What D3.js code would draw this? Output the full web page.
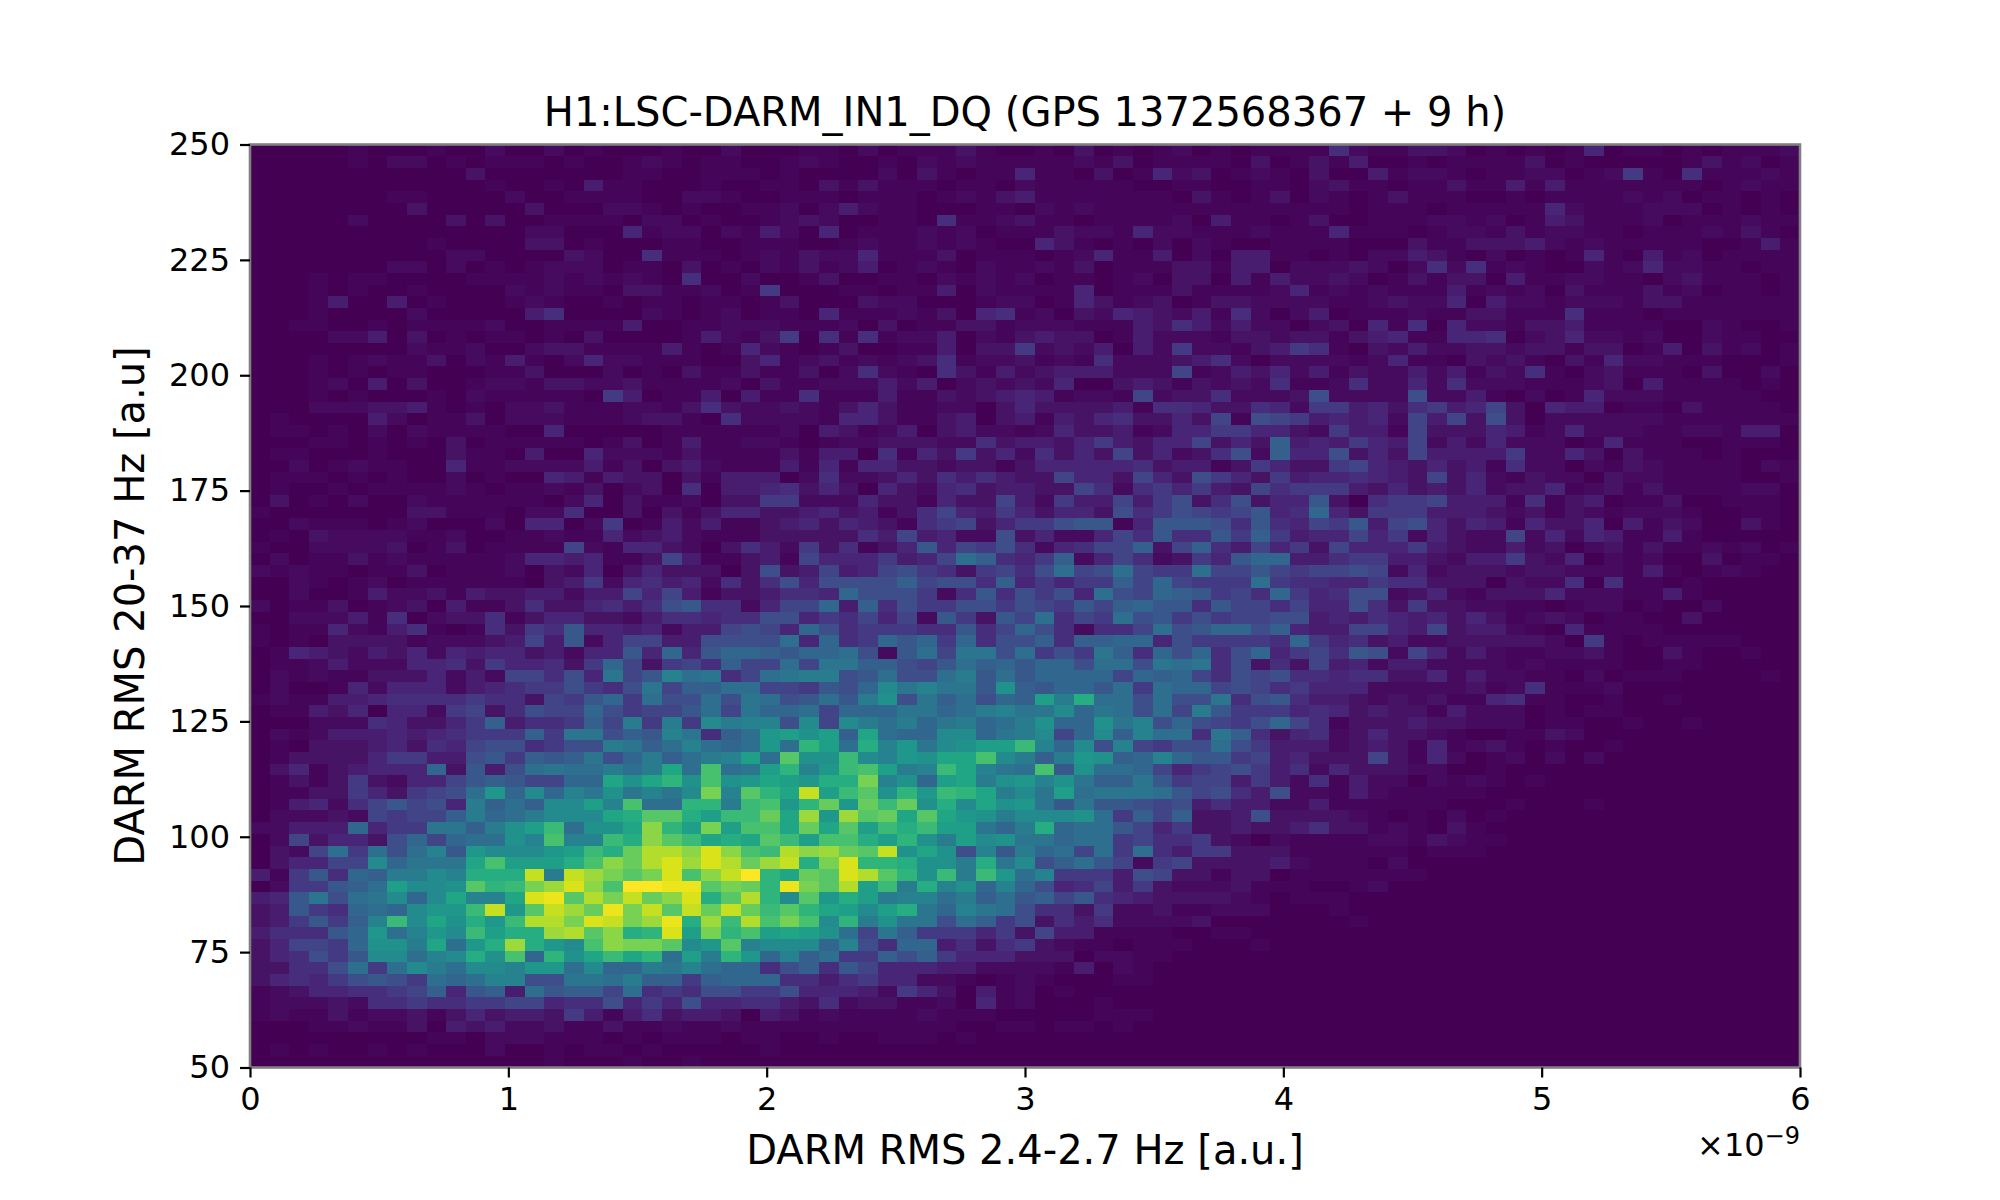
<!DOCTYPE html>
<html>
<head>
<meta charset="utf-8">
<script src="https://cdn.jsdelivr.net/npm/d3@7"></script>
<style>html,body{margin:0;background:#fff}svg{display:block}text{font-family:"DejaVu Sans";fill:#000}</style>
</head>
<body>
<svg id="c" width="2000" height="1200"></svg>
<script>
const titleText = "H1:LSC-DARM_IN1_DQ (GPS 1372568367 + 9 h)";
const xLabel = "DARM RMS 2.4-2.7 Hz [a.u.]";
const yLabel = "DARM RMS 20-37 Hz [a.u]";
const xTicks = [0,1,2,3,4,5,6];
const yTicks = [50,75,100,125,150,175,200,225,250];
const binCount = 79;
// counts per cell in base 36, top row first
const countRows = [
"0000010001 0020020100 0100200011 02 01113100103010120 1011116211 3320101015 0110101112",
"0000010220 1011101001 2101100121 00 10212111112130111 1030131400 1011113010 0000131201",
"0000000000 0300000001 1001110100 00 20310115110301523 0121030041 2210112201 2710611121",
"0000000000 0010010411 0001001103 13 11101102111110011 0011023110 1131141411 1111101211",
"0000000110 0002001111 0022100111 01 11012134111111103 1013021013 1110010111 1212011010",
"0000000030 0000300022 1010011202 42 11000110212111111 1111111011 1011111521 1122201010",
"0000020000 3030011110 2201001232 00 11061123110111120 4110130011 1221201431 1120111211",
"0000000000 0000220005 1220214205 01 11212011132215221 1121115111 0122131221 1011121310",
"0000000001 0000330100 0110011100 12 11212100531010202 1001111000 3113334212 1111100141",
"0000000000 2200003200 6111012132 25 11130111012511402 0441101022 4310201015 1041201111",
"0000000220 2010122201 1030102131 24 01210211213011133 1440222320 2626121002 1252211011",
"0001011000 0111121212 1060020013 00 11021212011012033 0414223201 3133041122 1102311101",
"0001010010 0002121103 3112017000 11 01140211115011131 1112512121 1141212031 1131201101",
"0001400401 0001210010 1101101300 03 22000122015312301 3322221123 2250422122 2133111111",
"0001000020 0000460000 2101201105 11 12130561203254324 1620240111 2113311161 1101111111",
"0011001011 1120011114 0011222111 20 30113312221114364 2422023051 6052213341 1110021001",
"0000224030 1011010300 0014213706 16 12240213433014222 1332331345 1155602352 2120021100",
"0000000021 1200233111 1410152101 30 01140337232404272 2134761032 4223323313 3014031201",
"0001012113 0214102522 1110035123 12 12361223121622234 6202222125 1103231031 5221110001",
"0001010110 0011300020 1031131130 26 21063142344422281 2435241322 4241326102 3111030020",
"0001204030 0122133223 1111203112 22 42402323250034313 2326112622 5262221112 3041111010",
"0001010001 0211111074 0114041161 11 41132345412218233 6222392222 9224102015 2221111100",
"0002223341 0102231112 2136322321 35 3112203533 3341665336 5277453674 58 305440110311110",
"0100004201 1302221112 3310622221 55 3113403414 3563353819 8745452848 39 302222221111111",
"0110102021 1110050000 0111111204 31 2403422125 3341255775 5327441833 35 412522211221440",
"0001101010 3011111013 0141122101 22 3332263443 5743558353 b454754824 25 222015111001110",
"0110001000 3110400522 2131111314 40 6153735263 5383523692 b559353844 44 722530311101000",
"0020121100 5112222413 0342111415 15 5332331355 5556344137 5337854353 41 622021321111021",
"0111010100 2010054143 3031444026 22 3536464338 5538539753 7455654383 52 132203221111001",
"0100101111 2101121302 3060445635 30 5325634433 8626757438 6777435343 52 335123131111220",
"0301020021 1111102503 1120337722 25 3315338427 4484793693 55a3067784 44 161340113001110",
"1000000033 1110226003 0313553345 34 1368547535 539679878a 56c5377744 43 231321222100110",
"0021110120 0020550270 1424113453 54 3167835779 aa15aaa96a 6587a48953 54 153350413200310",
"0103222211 2001121152 3421113333 36 4845229352 2586a66a7b 7455857253 22 825254114100000",
"1002222301 3011118215 5320364273 61 35a5879625 688b38b648 5738555743 22 423023131121201",
"0201131211 1112554511 3841134185 55 7458db657b 25862375ac c446774432 44 732502120030110",
"2121101130 1112032503 5333039348 45 897637869d 89d877d88a 8788982523 33 233222141012100",
"0021012011 1111034725 6452636959 99 9b8996b575 77b8c8777d 7665576633 30 322606110100000",
"0020014223 1433442448 5841334665 c9 99726a6979 5d98cba786 c756992352 13 335222114100000",
"2011301230 4113633564 69a662588c 4b 6977997987 a8bcaa6a88 6855963733 22 110122010020000",
"0022241602 3361355332 4665669957 68 582a73a8d6 87d9a79788 9945465453 53 123201100300000",
"1011521461 016376a554 52448985c9 67 7766a68c96 2668d9acc9 b544885483 44 210511110000000",
"1010333312 223484a258 8449999d5c 67 cac7c699b6 bbcc597777 6c75634223 33 332071011111000",
"0154324352 545534255a 5c5accbacc d9 2ad8ee9d79 7eb6c9c69c 5786a92852 42 112231003100100",
"0112422255 63755637c8 3786b88d8e eb b98adbcacc 9dd9ede693 6384524422 22 121111001100000",
"0212113335 24288695e8 agde68deff 9a d99dfadacc cc8cbc8698 9665663352 42 211020111000010",
"0200152555 2456779769 e8bbdd887a 9c hegeeaibac cad7dcc898 6755522222 31 261112000000000",
"1211445666 6766387ac7 d99d9ed9ad af i9ebd9cbkf mdd9d99e69 a644323231 15 611001001000000",
"0114350552 7836988c97 88ad8eccd8 cc ceecdfgeeh ced9d8fa77 7565343314 22 201011000000000",
"0002226533 57b4667b8f 7f7hfgg9h8 hf dfcefcdfic cieg9c9879 c861333433 22 201100100100000",
"0212444545 6777b7ee9b age6bdjkik bl dcchhcefh8 chbgdd6eb6 3562353321 00 113200000000000",
"0103334536 58996799fe bdgdcdjdnk dm gjehikkogc h9g8799d97 4442343151 23 101001000000000",
"0133335774 49a7babe9c fbdfgkdqii oh gjillphfbf jibcgcaa78 4533383152 01 202020000000000",
"035134555c 3a49deddfd fldpdekngj op kfgolgedpa iddc857897 4625333220 01 000000000000000",
"0131373255 8aba88ccli lnipijlkjm ms gicklfijgi ebbea78847 4261422021 21 010000000000000",
"0113375378 9djchcgeie gehsgqnlwk oq injonlfhek deeeda8964 9221421111 10 000000000000000",
"0145268a89 5fbdbhhkgp ddnnfopjnr jr orimhlijea eaa9894644 2241111110 00 100010000000000",
"0222328788 bfcdfhhhlm qqmkoorluj uq rlqljifhhh id7b8b3349 3333210102 01 000000000000000",
"22444c577e ebfikodiil tnkskpplrl qk omokkecfmc dda8573343 3463312103 10 000000000000000",
"02835539c8 cddigpggom tqolmlqokp pm knifkhieec dd78667320 2111122132 11 000000000000000",
"0328d7d9dg ajhhhjkomr vvtxtpovtu rq wili9gafcd 8d7d647733 3111111011 10 000000000000000",
"035588hcee elpkkkmptr vxuxvruwms xn nmiifmeh9b da82783333 4211102000 00 000000000000000",
"417a6cbffh gmmmwfwusq sxptwznlrq xv qniofojdg7 7749833133 0111111100 00 000000000000000",
"0277abdkhh iqnosuxtpz zyyqsrnysq vk ofmgicgc95 6847322231 1100120000 00 000000000000000",
"45ae9dehch lgglxyqvsw rtxmqvnhqj mk fggdfbdab8 a654333321 0111000000 00 000000000000000",
"34a76cdchj jowjqwurys wqwrwroqnl kh kmecged966 3722311222 0001000000 00 000000000000000",
"347a7bgohl imjovvsxws uymuovpsph nf iee9db7936 4622223000 0000100000 00 000000000000000",
"4666acjdgj hokmmuvqtm nxksnpklki d8 eb77757384 4111100110",
"35887ciifl djmumjhpts sqhjqghhhc g9 6cc4636732 1101110001",
"35697ahhdg hmipcnilol ndkfnjcgbd 77 b9b7555333 0221100",
"33669d7dhf dhhgjjdhcc fegdcc69b6 a8 5554422221 402100",
"356579a97d cdgg99eedf bb7bccc664 67 5522101210 001100",
"123556678b 5ab4dabb8d 6769977955 54 2753041201",
"1222326676 6778856695 7595566436 23 3112051200 010",
"1211312231 3534437414 6344304312 11 1121110000 0111",
"0001121130 4342231131 1211211111 11 1111001101 1010",
"0000000001 1022211101 0111011001 00 1110100000",
"0101001010 0020010110 1000001000 00",
"0000000000 0000010001 0010000000 00"
];
// my digit codes to position on the colour ramp, calibrated by eye for the dark end
const levelCodes = [0, 1, 2, 3, 4, 6, 10, 35];
const levelTones = [0, .012, .03, .05, .075, .13, .27, 1];
const cells = [];
countRows.forEach((row, r) => {
  const s = row.replace(/\s+/g, "").padEnd(binCount, "0").slice(0, binCount);
  for (let c = 0; c < binCount; c++) cells.push({r, c, v: parseInt(s[c], 36)});
});
const plotLeft = 250, plotRight = 1800, plotTop = 144.5, plotBottom = 1067.5;
const svg = d3.select("#c");
const x = d3.scaleLinear().domain([0, 6]).range([plotLeft, plotRight]);
const y = d3.scaleLinear().domain([50, 250]).range([plotBottom, plotTop]);
const colx = d3.scaleLinear().domain([0, binCount]).range([0, 6]);
const rowy = d3.scaleLinear().domain([0, binCount]).range([250, 50]);
const tone = d3.scaleLinear().domain(levelCodes).range(levelTones);
const color = v => d3.interpolateViridis(tone(v));
svg.append("g").attr("shape-rendering", "crispEdges").selectAll("rect").data(cells).join("rect")
  .attr("x", d => x(colx(d.c)))
  .attr("y", d => y(rowy(d.r)))
  .attr("width", d => x(colx(d.c + 1)) - x(colx(d.c)) + .5)
  .attr("height", d => y(rowy(d.r + 1)) - y(rowy(d.r)) + .5)
  .attr("fill", d => color(d.v));
svg.append("rect").attr("x", plotLeft).attr("y", plotTop).attr("width", plotRight - plotLeft).attr("height", plotBottom - plotTop)
  .attr("fill", "none").attr("stroke", "#808080").attr("stroke-width", 2.6);
const ax = svg.append("g").attr("transform", `translate(0,${plotBottom})`)
  .call(d3.axisBottom(x).tickValues(xTicks).tickFormat(d3.format("d")).tickSize(10).tickPadding(10));
const ay = svg.append("g").attr("transform", `translate(${plotLeft},0)`)
  .call(d3.axisLeft(y).tickValues(yTicks).tickFormat(d3.format("d")).tickSize(10).tickPadding(10));
[ax, ay].forEach(a => {
  a.select(".domain").remove();
  a.selectAll("line").attr("stroke", "#000").attr("stroke-width", 2.2);
  a.selectAll("text").style("font-family", '"DejaVu Sans"').style("font-size", "32px").attr("fill", "#000");
});
svg.append("text").attr("x", 1025).attr("y", 126).attr("text-anchor", "middle").attr("font-size", "40px").text(titleText);
svg.append("text").attr("x", 1025).attr("y", 1164).attr("text-anchor", "middle").attr("font-size", "40px").text(xLabel);
svg.append("text").attr("transform", "translate(144,606) rotate(-90)").attr("text-anchor", "middle").attr("font-size", "40px").text(yLabel);
const exp = svg.append("text").attr("x", 1800).attr("y", 1156).attr("text-anchor", "end").attr("font-size", "32px");
exp.append("tspan").text("×10");
exp.append("tspan").attr("dy", -12).attr("font-size", "24px").text("−9");
</script>
</body>
</html>
